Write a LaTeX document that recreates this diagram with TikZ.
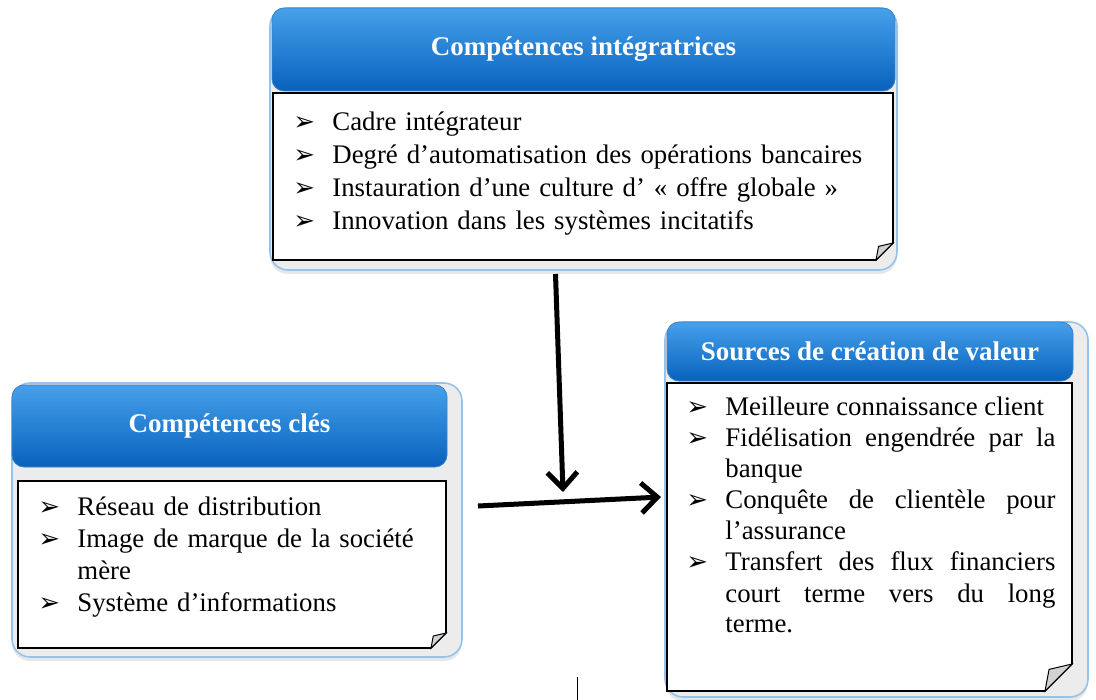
\documentclass[tikz,border=0pt]{standalone}
\usepackage{fontspec}
\setmainfont{Liberation Serif}
\newfontfamily\symb{DejaVu Sans}
\usetikzlibrary{positioning, arrows.meta, calc, shadows}
\definecolor{bleuhaut}{RGB}{70,160,235}
\definecolor{bleubas}{RGB}{8,98,188}
\definecolor{bordbleu}{RGB}{150,195,235}
\hyphenpenalty=10000
\newcommand{\puce}[1]{\noindent\hangindent=19.5pt\hangafter=1%
  \makebox[19.5pt][l]{\symb\bfseries\fontsize{13pt}{13pt}\selectfont ➢}#1\par}
\newcommand{\espaces}{\spaceskip=0.25em plus 0.5em\relax}

\begin{document}
\begin{tikzpicture}[x=0.5pt, y=0.5pt,
  carte/.style={draw=bordbleu, line width=0.8pt, fill=gray!15,
    rounded corners=9pt, inner sep=0pt, outer sep=0pt, anchor=north west,
    drop shadow={opacity=0.2, shadow xshift=0pt, shadow yshift=-2pt}},
  titre/.style={top color=bleuhaut, bottom color=bleubas, draw=bleubas!80,
    rounded corners=6pt, inner sep=0pt, outer sep=0pt, anchor=north west,
    text=white, font=\bfseries\fontsize{13.5pt}{16pt}\selectfont},
  corps/.style={inner sep=0pt, outer sep=0pt, anchor=north west},
  texte/.style={inner sep=0pt, anchor=north west,
    font=\fontsize{13.4pt}{16pt}\selectfont},
  fleche/.style={line width=2.5pt, -{Straight Barb[length=8pt, width=15pt]}}]

  \useasboundingbox (0,0) rectangle (1096,-700);

  % cartes de fond
  \node[carte, minimum width=313.5pt, minimum height=131pt]
    (carte-integ) at (270,-8) {};
  \node[carte, minimum width=225pt, minimum height=137pt]
    (carte-cles) at (12,-383) {};
  \node[carte, minimum width=211.5pt, minimum height=187.5pt]
    (carte-valeur) at (665,-322) {};

  % bandeaux bleus
  \node[titre, minimum width=311.5pt, minimum height=41.5pt]
    (titre-integ) at (272,-8) {Compétences intégratrices};
  \node[titre, minimum width=217.5pt, minimum height=41pt]
    (titre-cles) at (12,-385) {Compétences clés};
  \node[titre, minimum width=203pt, minimum height=29.5pt]
    (titre-valeur) at (667,-322) {Sources de création de valeur};

  % blocs de texte (coin plié)
  \node[corps, minimum width=310pt, minimum height=83.5pt]
    (corps-integ) at (273,-93) {};
  \node[corps, minimum width=214pt, minimum height=83.5pt]
    (corps-cles) at (18,-481) {};
  \node[corps, minimum width=202.5pt, minimum height=154pt]
    (corps-valeur) at (667,-383) {};
  \foreach \nom/\pli in {integ/8.5pt, cles/7.5pt, valeur/13.5pt}
  {
    \filldraw[fill=white, line width=0.8pt]
      (corps-\nom.north west) -- (corps-\nom.north east)
      -- ($(corps-\nom.south east)+(0,\pli)$)
      -- ($(corps-\nom.south east)+(-\pli,0)$)
      -- (corps-\nom.south west) -- cycle;
    \filldraw[fill=gray!35, line width=0.5pt]
      ($(corps-\nom.south east)+(0,\pli)$)
      -- ($(corps-\nom.south east)+(-\pli,0)$)
      -- ($(corps-\nom.south east)+(-0.85*\pli,0.8*\pli)$) -- cycle;
  }

  \node[texte, text width=290pt, align=left,
    font=\fontsize{13.4pt}{16.5pt}\selectfont] (texte-integ) at (293,-111) {%
    \puce{Cadre intégrateur}
    \puce{Degré d’automatisation des opérations bancaires}
    \puce{Instauration d’une culture d’ « offre globale »}
    \puce{Innovation dans les systèmes incitatifs}};
  \node[texte, text width=194pt, align=left] (texte-cles) at (38,-496) {%
    \puce{Réseau de distribution}
    \puce{Image de marque de la société mère}
    \puce{Système d’informations}};
  \node[texte, text width=184.5pt, align=justify,
    font=\fontsize{13.4pt}{15.5pt}\selectfont]
    (texte-valeur) at (686,-397) {\espaces
    \puce{Meilleure connaissance client}
    \puce{Fidélisation engendrée par la banque}
    \puce{Conquête de clientèle pour l’assurance}
    \puce{Transfert des flux financiers court terme vers du long terme.}};

  % fleches
  \coordinate (jonction) at (563,-492);
  \draw[fleche] ([xshift=-14pt, yshift=-2pt]carte-integ.south) -- (jonction);
  \draw[fleche] ([xshift=8pt, yshift=7pt]carte-cles.east)
    -- ([xshift=-3pt, yshift=20pt]corps-valeur.west);

  \draw[line width=0.5pt] (577,-677) -- (577,-700);
\end{tikzpicture}
\end{document}
